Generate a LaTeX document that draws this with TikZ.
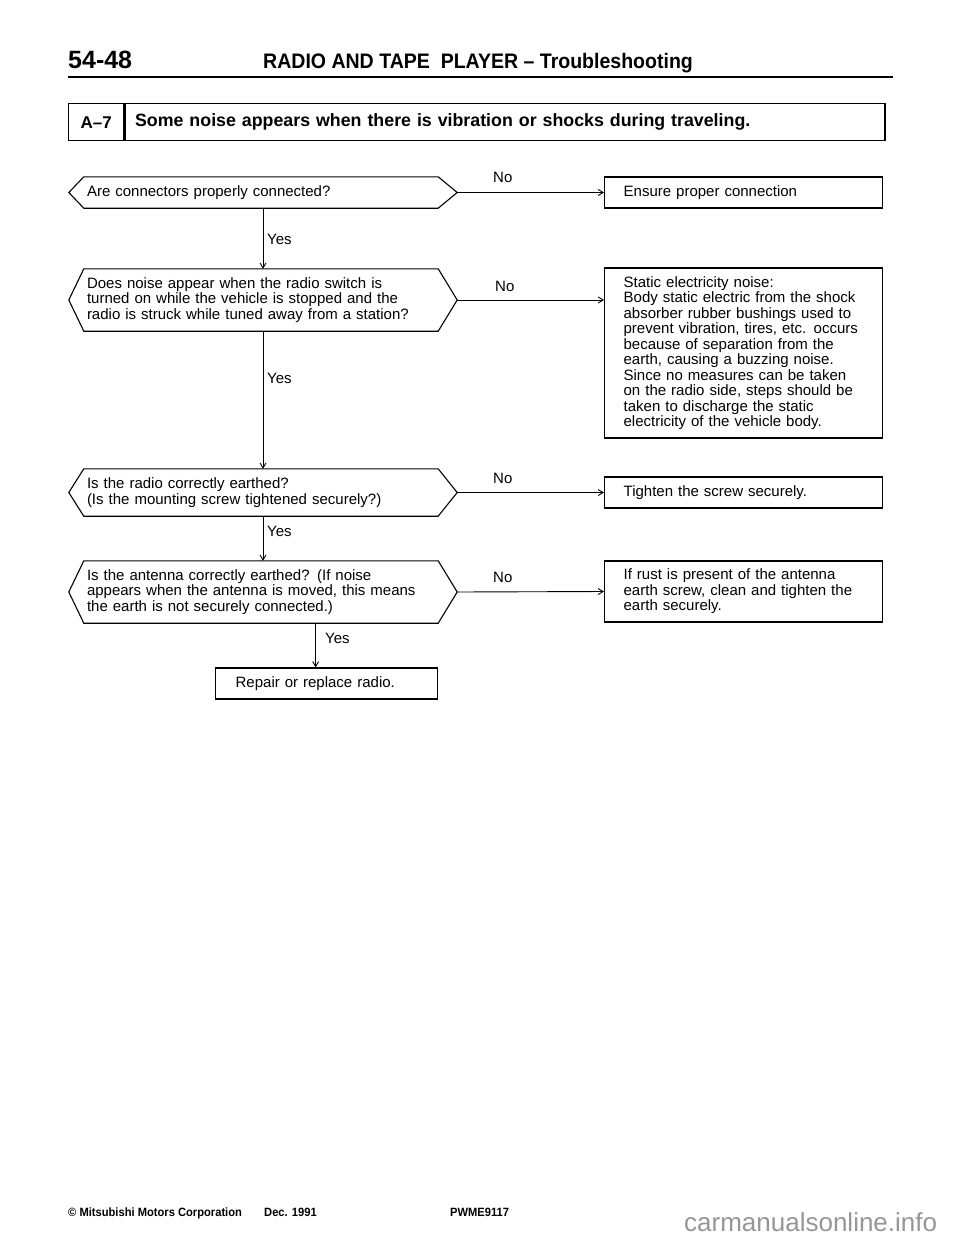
\documentclass[tikz,border=0pt]{standalone}
\usepackage{fontspec}
\setmainfont{Liberation Sans}
\usepackage{graphicx}
\usepackage{tikz}
\usetikzlibrary{arrows.meta,positioning,calc}
\definecolor{markGray}{RGB}{150,150,150}

% outline of a question box: blunt point left and right
\newcommand{\hexout}[1]{%
  \draw[hexline] ([xshift=15pt]#1.north west) -- ([xshift=-19pt]#1.north east)
    -- (#1.east) -- ([xshift=-19pt]#1.south east)
    -- ([xshift=15pt]#1.south west) -- (#1.west) -- cycle;}

\begin{document}
\begin{tikzpicture}[x=1pt,y=-1pt,
    body/.style={font=\fontsize{15}{15.5}\selectfont},
    question/.style={body, align=left, text width=352pt, inner xsep=18pt, inner ysep=0pt},
    hexline/.style={line width=1.1pt},
    result/.style={body, draw, line width=1.3pt, align=left, text width=240pt,
                   inner xsep=19pt, inner ysep=0pt, anchor=west},
    flow/.style={line width=0.9pt, -{Straight Barb[length=5pt,width=6pt]}},
    answer/.style={body, anchor=west, inner sep=0pt}]
  \fill[white] (0,0) rectangle (960,1239);
  \useasboundingbox (0,0) rectangle (960,1239);

  % Header
  \node[font=\bfseries\fontsize{25}{25}\selectfont, anchor=base west, inner sep=0pt]
    (pagenum) at (68,68) {54-48};
  \node[font=\bfseries\fontsize{21}{21}\selectfont, anchor=base west, inner sep=0pt]
    (title) at (263,68) {\scalebox{0.93}[1]{RADIO AND TAPE\ \ PLAYER -- Troubleshooting}};
  \draw[line width=2.5pt] (68,77) -- (893,77);

  % Symptom
  \node[draw, line width=1.4pt, minimum width=55pt, minimum height=37pt, anchor=north west,
        font=\bfseries\fontsize{17}{17}\selectfont]
    (code) at (68,103) {A--7};
  \node[draw, line width=1.4pt, minimum height=37pt, anchor=north west, align=left,
        text width=740pt, inner xsep=10pt, font=\bfseries\fontsize{17.8}{17.8}\selectfont]
    (symptom) at (code.north east) {Some noise appears when there is vibration or shocks during traveling.};

  % Questions
  \node[question, minimum height=31pt] (conn) at (263,192.5)
    {Are connectors properly connected?};
  \node[question, minimum height=62pt] (noise) at (263,300)
    {Does noise appear when the radio switch is\\
     turned on while the vehicle is stopped and the\\
     radio is struck while tuned away from a station?};
  \node[question, minimum height=47pt] (earth) at (263,492.5)
    {Is the radio correctly earthed?\\
     (Is the mounting screw tightened securely?)};
  \node[question, minimum height=62pt] (antenna) at (263,592)
    {Is the antenna correctly earthed? (If noise\\
     appears when the antenna is moved, this means\\
     the earth is not securely connected.)};
  \hexout{conn}
  \hexout{noise}
  \hexout{earth}
  \hexout{antenna}

  % Remedies
  \node[result, minimum height=31pt] (ensure) at (604,192.5) {Ensure proper connection};
  \node[result, minimum height=170pt] (static) at (604,353)
    {Static electricity noise:\\
     Body static electric from the shock\\
     absorber rubber bushings used to\\
     prevent vibration, tires, etc. occurs\\
     because of separation from the\\
     earth, causing a buzzing noise.\\
     Since no measures can be taken\\
     on the radio side, steps should be\\
     taken to discharge the static\\
     electricity of the vehicle body.};
  \node[result, minimum height=31pt] (tighten) at (604,492.5) {Tighten the screw securely.};
  \node[result, minimum height=61pt] (rust) at (604,591.5)
    {If rust is present of the antenna\\
     earth screw, clean and tighten the\\
     earth securely.};
  \node[result, text width=182pt, inner xsep=20pt, minimum height=31pt]
    (repair) at (215,683.5) {Repair or replace radio.};

  % Arrows
  \draw[flow] (conn.south) -- (noise.north);
  \draw[flow] (noise.south) -- (earth.north);
  \draw[flow] (earth.south) -- (antenna.north);
  \draw[flow] ([xshift=-11pt]repair.north |- antenna.south) -- ([xshift=-11pt]repair.north);
  \draw[flow] (conn.east) -- (ensure.west);
  \draw[flow] (noise.east) -- (noise.east -| static.west);
  \draw[flow] (earth.east) -- (tighten.west);
  \draw[flow] (antenna.east) -- (rust.west);

  % Answers
  \node[answer] (no1) at (493,177) {No};
  \node[answer] (no2) at (495,286) {No};
  \node[answer] (no3) at (493,478) {No};
  \node[answer] (no4) at (493,577) {No};
  \node[answer] (yes1) at (267,239) {Yes};
  \node[answer] (yes2) at (267,378) {Yes};
  \node[answer] (yes3) at (267,531) {Yes};
  \node[answer] (yes4) at (325,638) {Yes};

  % Footer
  \node[font=\bfseries\fontsize{12}{12}\selectfont, anchor=base west, inner sep=0pt]
    (corp) at (68,1216) {\scalebox{0.93}[1]{\textcopyright\ Mitsubishi Motors Corporation}};
  \node[font=\bfseries\fontsize{12}{12}\selectfont, anchor=base west, inner sep=0pt]
    (date) at (264,1216) {\scalebox{0.93}[1]{Dec. 1991}};
  \node[font=\bfseries\fontsize{12}{12}\selectfont, anchor=base west, inner sep=0pt]
    (pwme) at (450,1216) {\scalebox{0.93}[1]{PWME9117}};
  \node[font=\fontsize{26}{26}\selectfont, text=markGray, anchor=base west, inner sep=0pt]
    (site) at (684,1231) {carmanualsonline.info};
\end{tikzpicture}
\end{document}
